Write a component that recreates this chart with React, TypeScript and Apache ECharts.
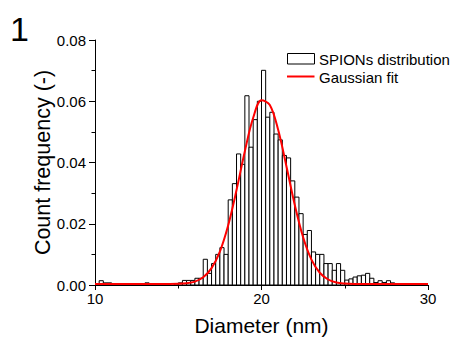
import React, { useEffect, useRef } from "react";
import * as echarts from "echarts";

// Histogram: bins of 0.25 nm starting at 10 nm
const BIN_START = 10;
const BIN_WIDTH = 0.25;
const frequencies = [
  0, 0.0014, 0.0007, 0.0007, 0, 0, 0, 0, 0, 0,
  0, 0, 0.0007, 0, 0, 0, 0, 0, 0, 0.0004,
  0.0007, 0.0015, 0.0015, 0.0015, 0.0022, 0.0022, 0.0084, 0.0038, 0.007, 0.01,
  0.0122, 0.01, 0.0278, 0.0331, 0.0428, 0.0394, 0.0618, 0.045, 0.054, 0.06,
  0.0701, 0.0548, 0.0564, 0.0493, 0.0474, 0.0423, 0.0415, 0.034, 0.0287, 0.0233,
  0.0165, 0.0178, 0.0108, 0.01, 0.01, 0.007, 0.007, 0.0048, 0.007, 0.0048,
  0.0016, 0.002, 0.0026, 0.003, 0.0032, 0.0038, 0.0022, 0.0008, 0.0014, 0.0008,
  0.0014, 0.0007, 0, 0, 0, 0, 0, 0, 0, 0,
];

// Gaussian fit curve
const fitX = [10, 12, 14, 15, 15.5, 16, 16.5, 17, 17.5, 18, 18.5, 19, 19.5, 20, 20.5, 21, 21.5, 22, 22.5, 23, 23.5, 24, 24.5, 25, 26, 28, 30];
const fitY = [0.0003, 0.0003, 0.0003, 0.0004, 0.0006, 0.0011, 0.0025, 0.0055, 0.0109, 0.0195, 0.031, 0.0437, 0.0546, 0.0603, 0.0588, 0.0507, 0.0387, 0.0261, 0.0156, 0.0083, 0.004, 0.0018, 0.0008, 0.0005, 0.0003, 0.0003, 0.0003];

const xTicks = [10, 20, 30];
const yTicks = [0, 0.02, 0.04, 0.06, 0.08];
const legendNames = ["SPIONs distribution", "Gaussian fit"];

const FONT = "'Liberation Sans', Arial, sans-serif";

export default function App() {
  const ref = useRef<HTMLDivElement>(null);
  useEffect(() => {
    if (!ref.current) return;
    const chart = echarts.init(ref.current, null, { renderer: "svg" });
    const histData: number[][] = [];
    frequencies.forEach((v, i) => {
      if (v > 0) histData.push([BIN_START + i * BIN_WIDTH, BIN_START + (i + 1) * BIN_WIDTH, v]);
    });
    const lineData = fitX.map((x, i) => [x, fitY[i]]);
    chart.setOption({
      animation: false,
      backgroundColor: "#fff",
      textStyle: { fontFamily: FONT },
      grid: { left: 95, right: 24, top: 40, bottom: 53, containLabel: false, outerBoundsMode: "none" },
      xAxis: {
        type: "value",
        min: xTicks[0],
        max: xTicks[xTicks.length - 1],
        interval: 10,
        name: "Diameter (nm)",
        nameLocation: "middle",
        nameGap: 30,
        nameMoveOverlap: false,
        nameTextStyle: { fontFamily: FONT, fontSize: 21, color: "#000" },
        axisLine: { show: true, lineStyle: { color: "#000", width: 1 } },
        axisTick: { show: true, length: 5, lineStyle: { color: "#000" } },
        minorTick: { show: true, splitNumber: 2, length: 3.5, lineStyle: { color: "#000" } },
        splitLine: { show: false },
        minorSplitLine: { show: false },
        axisLabel: { fontFamily: FONT, fontSize: 15, color: "#000", margin: 6 },
      },
      yAxis: {
        type: "value",
        min: yTicks[0],
        max: yTicks[yTicks.length - 1],
        interval: 0.02,
        name: "Count frequency (-)",
        nameLocation: "middle",
        nameGap: 41,
        nameMoveOverlap: false,
        nameTextStyle: { fontFamily: FONT, fontSize: 21.5, color: "#000" },
        axisLine: { show: true, lineStyle: { color: "#000", width: 1 } },
        axisTick: { show: true, length: 6, lineStyle: { color: "#000" } },
        minorTick: { show: true, splitNumber: 2, length: 3.5, lineStyle: { color: "#000" } },
        splitLine: { show: false },
        minorSplitLine: { show: false },
        axisLabel: {
          fontFamily: FONT,
          fontSize: 15,
          color: "#000",
          margin: 9,
          formatter: (v: number) => v.toFixed(2),
        },
      },
      graphic: [
        {
          type: "text",
          left: 10,
          top: 12,
          style: { text: "1", font: `34px ${FONT}`, fill: "#000" },
        },
        {
          type: "rect",
          shape: { x: 287.5, y: 53.5, width: 27, height: 10.5 },
          style: { fill: "#fff", stroke: "#000", lineWidth: 1 },
        },
        {
          type: "text",
          x: 319,
          y: 59,
          style: { text: legendNames[0], font: `15px ${FONT}`, fill: "#000", verticalAlign: "middle" },
        },
        {
          type: "line",
          shape: { x1: 287, y1: 76.5, x2: 314.5, y2: 76.5 },
          style: { stroke: "#ff0000", lineWidth: 2 },
        },
        {
          type: "text",
          x: 319,
          y: 77,
          style: { text: legendNames[1], font: `15px ${FONT}`, fill: "#000", verticalAlign: "middle" },
        },
      ],
      series: [
        {
          name: legendNames[0],
          type: "custom",
          z: 2,
          itemStyle: { color: "#fff", borderColor: "#000", borderWidth: 1 },
          encode: { x: [0, 1], y: 2 },
          renderItem: (params: any, api: any) => {
            const x0 = api.value(0);
            const x1 = api.value(1);
            const v = api.value(2);
            const p0 = api.coord([x0, v]);
            const p1 = api.coord([x1, 0]);
            return {
              type: "rect",
              shape: { x: p0[0], y: p0[1], width: p1[0] - p0[0], height: p1[1] - p0[1] },
              style: { fill: "#fff", stroke: "#000", lineWidth: 1 },
            };
          },
          data: histData,
        },
        {
          name: legendNames[1],
          type: "line",
          z: 5,
          smooth: 0.35,
          symbol: "none",
          lineStyle: { color: "#ff0000", width: 2 },
          itemStyle: { color: "#ff0000" },
          data: lineData,
        },
      ],
    });
    return () => chart.dispose();
  }, []);
  return (
    <div
      ref={ref}
      style={{ position: "fixed", left: 0, top: 0, width: 452, height: 338 }}
    />
  );
}
